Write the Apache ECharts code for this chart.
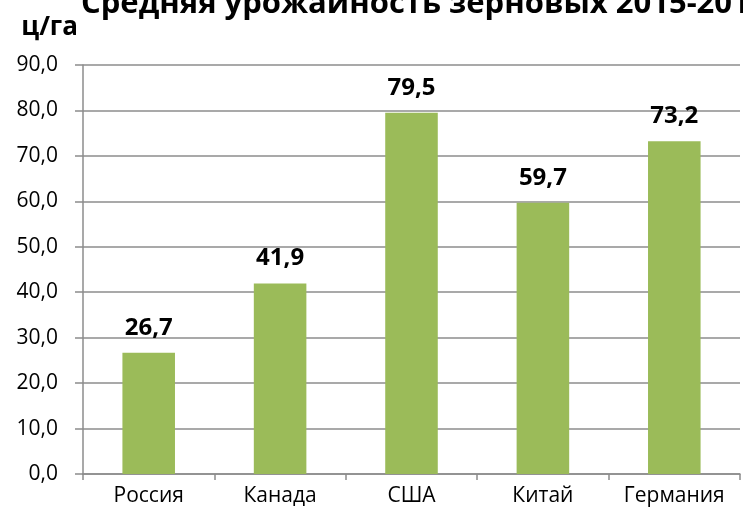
<!DOCTYPE html>
<html>
<head>
<meta charset="utf-8">
<script src="https://cdn.jsdelivr.net/npm/echarts@6/dist/echarts.min.js"></script>
<style>
  html, body { margin: 0; padding: 0; background: #fff; }
  #chart { width: 743px; height: 522px; }
</style>
</head>
<body>
<div id="chart"></div>
<script>
// урожайность, ц/га
var countries = ['Россия', 'Канада', 'США', 'Китай', 'Германия'];
var yields = [26.7, 41.9, 79.5, 59.7, 73.2];

var chart = echarts.init(document.getElementById('chart'));

function fmt(v) {
  return v.toFixed(1).replace('.', ',');
}

var option = {
  animation: false,
  textStyle: { fontFamily: 'Open Sans' },
  title: {
    text: 'Средняя урожайность зерновых 2015-2019',
    left: 76,
    top: -16,
    textStyle: { fontSize: 31, fontWeight: 'bold', color: '#000', fontFamily: 'Open Sans' }
  },
  grid: { left: 83, right: 3, top: 65, bottom: 48 },
  xAxis: {
    type: 'category',
    data: countries,
    axisLine: { lineStyle: { color: '#8c8c8c', width: 1.5 } },
    axisTick: { show: true, length: 6, lineStyle: { color: '#8c8c8c', width: 1.5 } },
    axisLabel: { color: '#000', fontSize: 21, margin: 12 }
  },
  yAxis: {
    type: 'value',
    name: 'ц/га',
    nameLocation: 'end',
    nameGap: 24,
    nameTextStyle: { fontSize: 26, fontWeight: 'bold', color: '#000', align: 'right', padding: [0, 5, 0, 0] },
    min: 0,
    max: 90,
    interval: 10,
    axisLine: { show: true, lineStyle: { color: '#8c8c8c', width: 1.5 } },
    axisTick: { show: true, length: 8, lineStyle: { color: '#8c8c8c', width: 1.5 } },
    splitLine: { lineStyle: { color: '#8c8c8c', width: 1.5 } },
    axisLabel: { color: '#000', fontSize: 21, margin: 25, formatter: fmt }
  },
  series: [{
    type: 'bar',
    data: yields,
    barWidth: '40%',
    itemStyle: { color: '#9BBB59' },
    label: {
      show: true,
      position: 'top',
      distance: 13,
      fontSize: 24,
      fontWeight: 'bold',
      color: '#000',
      formatter: function (p) { return fmt(p.value); }
    }
  }]
};

chart.setOption(option);
</script>
</body>
</html>
